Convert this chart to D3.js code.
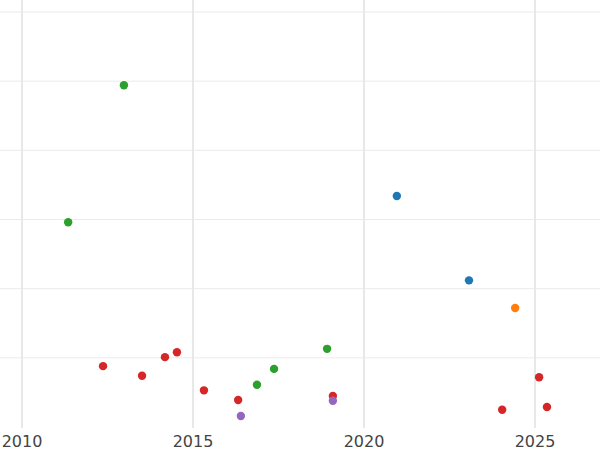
<!DOCTYPE html>
<html>
<head>
<meta charset="utf-8">
<script src="https://cdn.jsdelivr.net/npm/d3@7"></script>
<style>
body { margin: 0; background: #fff; }
</style>
</head>
<body>
<div id="chart"></div>
<script>
"use strict";

// data
var years = [2012.98, 2011.35, 2020.96, 2023.07, 2024.42, 2018.92, 2017.37, 2016.87,
             2012.37, 2013.51, 2014.18, 2014.53, 2015.32, 2016.32, 2016.40, 2019.09,
             2019.09, 2024.04, 2025.12, 2025.35];
var values = [4.94, 2.96, 3.34, 2.12, 1.72, 1.13, 0.84, 0.61,
              0.88, 0.74, 1.01, 1.08, 0.53, 0.39, 0.16, 0.45,
              0.38, 0.25, 0.72, 0.29];
var groups = ["green", "green", "blue", "blue", "orange", "green", "green", "green",
              "red", "red", "red", "red", "red", "red", "purple", "red",
              "purple", "red", "red", "red"];
var xTicks = [2010, 2015, 2020, 2025];
var yTicks = [1, 2, 3, 4, 5, 6];

var width = 600, height = 450;
var colors = {blue: "#1f77b4", orange: "#ff7f0e", green: "#2ca02c", red: "#d62728", purple: "#9467bd"};

var svg = d3.select("#chart").append("svg").attr("width", width).attr("height", height);

var x = d3.scaleLinear().domain([2010, 2025]).range([22, 535]);
var y = d3.scaleLinear().domain([0, 6]).range([427, 12]);

// grid
svg.append("g").selectAll("line").data(yTicks).enter().append("line")
    .attr("x1", 0).attr("x2", width)
    .attr("y1", function (d) { return y(d); }).attr("y2", function (d) { return y(d); })
    .attr("stroke", "#ebebeb").attr("stroke-width", 1);

svg.append("g").selectAll("line").data(xTicks).enter().append("line")
    .attr("x1", function (d) { return x(d); }).attr("x2", function (d) { return x(d); })
    .attr("y1", 0).attr("y2", 428)
    .attr("stroke", "#e8e8e8").attr("stroke-width", 2);

// x axis labels
svg.append("g").selectAll("text").data(xTicks).enter().append("text")
    .attr("x", function (d) { return x(d); }).attr("y", 447)
    .attr("text-anchor", "middle")
    .attr("font-family", "DejaVu Sans, sans-serif").attr("font-size", 16)
    .attr("fill", "#444")
    .text(function (d) { return d; });

// points
svg.append("g").selectAll("circle").data(d3.range(years.length)).enter().append("circle")
    .attr("cx", function (i) { return x(years[i]); })
    .attr("cy", function (i) { return y(values[i]); })
    .attr("r", 4.2)
    .attr("fill", function (i) { return colors[groups[i]]; });
</script>
</body>
</html>
